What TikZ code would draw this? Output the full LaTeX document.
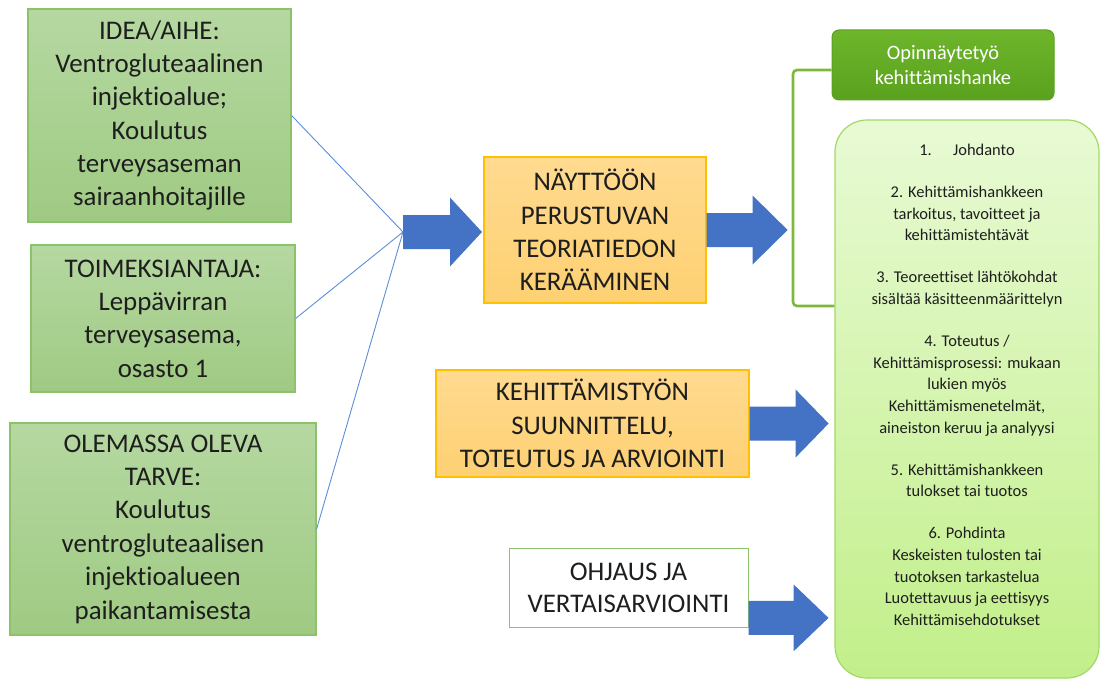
\documentclass[tikz,border=0pt]{standalone}
\usepackage{fontspec}
\setmainfont{Carlito}[Ligatures=NoCommon]
\usetikzlibrary{positioning}
\definecolor{vihrea}{HTML}{B5D8A1}
\definecolor{vihreaala}{HTML}{9FCA83}
\definecolor{vihreareuna}{HTML}{8CC26A}
\definecolor{oranssi}{HTML}{FFDA90}
\definecolor{oranssiala}{HTML}{FDD072}
\definecolor{oranssireuna}{HTML}{FFC000}
\definecolor{nuolensini}{HTML}{4472C4}
\definecolor{viiva}{HTML}{5B8DD8}
\definecolor{tumma}{HTML}{6DB52A}
\definecolor{tummaala}{HTML}{5AA21E}
\definecolor{vaalea}{HTML}{E8FAD4}
\definecolor{vaaleaala}{HTML}{C2EF8A}
\definecolor{vaaleareuna}{HTML}{A3D866}
\definecolor{haaravari}{HTML}{7DB83A}
\definecolor{teksti}{HTML}{1E1E1E}
\newcommand{\isonuoli}[4]{%
\begin{scope}[shift={(#1)}]
\fill[nuoli] (0,17) -- (#2,17) -- (#2,#4) -- ({#2+#3},0) -- (#2,-#4) -- (#2,-17) -- (0,-17) -- cycle;
\end{scope}}
\begin{document}
\begin{tikzpicture}[x=1bp, y=1bp,
  lahde/.style={draw=vihreareuna, line width=1.2pt, top color=vihrea, bottom color=vihreaala, align=center, text=teksti, font=\fontsize{27}{33.5}\selectfont, inner sep=0pt},
  vaihe/.style={draw=oranssireuna, line width=1.2pt, top color=oranssi, bottom color=oranssiala, align=center, text=teksti, font=\fontsize{27}{33.5}\selectfont, inner sep=0pt},
  ohjaus/.style={draw=vihreareuna, line width=1pt, fill=white, align=center, text=teksti, font=\fontsize{27}{32}\selectfont, inner sep=0pt},
  nuoli/.style={fill=nuolensini},
  ohut/.style={draw=viiva, line width=0.9pt},
  haara/.style={draw=haaravari, line width=2.6pt, rounded corners=4pt}]
\useasboundingbox (0,0) rectangle (1101,-681);
\node[lahde, minimum width=263bp, minimum height=213bp] (idea) at (159.5,-115.5){IDEA/AIHE:\\Ventrogluteaalinen\\injektioalue;\\Koulutus\\terveysaseman\\sairaanhoitajille};
\node[lahde, minimum width=264bp, minimum height=147bp] (toimeksiantaja) at (163,-318.5){TOIMEKSIANTAJA:\\Leppävirran\\terveysasema,\\osasto 1};
\node[lahde, minimum width=306bp, minimum height=212bp] (tarve) at (163,-529){OLEMASSA OLEVA\\TARVE:\\Koulutus\\ventrogluteaalisen\\injektioalueen\\paikantamisesta};
\coordinate (yhtyma) at (403,-232);
\draw[ohut] (idea.east) -- (yhtyma);
\draw[ohut] (toimeksiantaja.east) -- (yhtyma);
\draw[ohut] (tarve.east) -- (yhtyma);
\node[vaihe, minimum width=222bp, minimum height=146bp] (naytto) at (595,-230){NÄYTTÖÖN\\PERUSTUVAN\\TEORIATIEDON\\KERÄÄMINEN};
\node[vaihe, minimum width=313bp, minimum height=107bp] (kehitys) at (592.5,-423.5){KEHITTÄMISTYÖN\\SUUNNITTELU,\\TOTEUTUS JA ARVIOINTI};
\node[ohjaus, minimum width=239bp, minimum height=79bp] (ohjaus) at (628.5,-587.5){OHJAUS JA\\VERTAISARVIOINTI};
\node[draw=vaaleareuna, line width=1.2pt, top color=vaalea, bottom color=vaaleaala, rounded corners=32bp, minimum width=264bp, minimum height=558bp, inner sep=0pt] (rakenne) at (967,-399){};
\node[anchor=north, align=center, text=teksti, font=\fontsize{16.5}{21.7}\selectfont, inner sep=0pt] (sisalto) at (967,-144){1.\hspace{1.3em}Johdanto\\[20.5pt]
2. Kehittämishankkeen\\tarkoitus, tavoitteet ja\\kehittämistehtävät\\[20.5pt]
3. Teoreettiset lähtökohdat\\sisältää käsitteenmäärittelyn\\[20.5pt]
4. Toteutus /\\Kehittämisprosessi: mukaan\\lukien myös\\Kehittämismenetelmät,\\aineiston keruu ja analyysi\\[20.5pt]
5. Kehittämishankkeen\\tulokset tai tuotos\\[20.5pt]
6. Pohdinta\\Keskeisten tulosten tai\\tuotoksen tarkastelua\\Luotettavuus ja eettisyys\\Kehittämisehdotukset};
\node[draw=tummaala, line width=1pt, top color=tumma, bottom color=tummaala, rounded corners=7bp, minimum width=222bp, minimum height=70bp, align=center, text=white, font=\fontsize{20.5}{25}\selectfont, inner sep=0pt] (opinnayte) at (943,-65){Opinnäytetyö\\kehittämishanke};
\draw[haara] ([yshift=-5pt]opinnayte.west) -| (793,-306) -- (rakenne.west |- 0,-306);
\isonuoli{yhtyma}{47}{32}{34.5}
\isonuoli{naytto.east}{46}{35}{34.5}
\isonuoli{kehitys.east}{46}{33}{34}
\isonuoli{[yshift=-30.5pt]ohjaus.east}{45}{35}{33.5}
\end{tikzpicture}
\end{document}
